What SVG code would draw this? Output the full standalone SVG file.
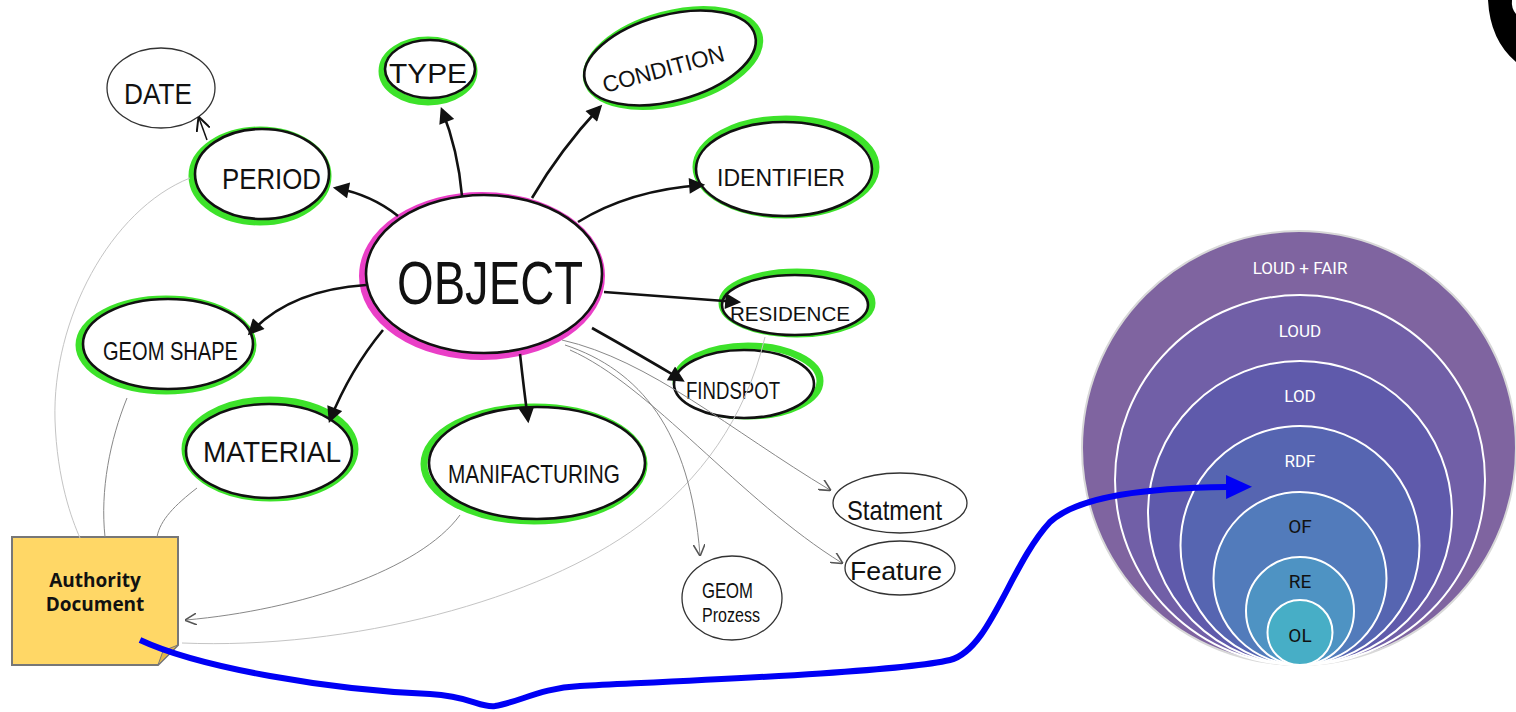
<svg xmlns="http://www.w3.org/2000/svg" width="1516" height="712" viewBox="0 0 1516 712">
<style>
.hand{font-family:"Liberation Sans",Arial,sans-serif;fill:#111;}
.grn{fill:none;stroke:#3de22a;stroke-width:7;}
.pink{fill:none;stroke:#ea3fc7;stroke-width:8;}
.blk{fill:#fff;stroke:#111;stroke-width:2.6;}
.thin{fill:#fff;stroke:#333;stroke-width:1.3;}
.conn{fill:none;stroke:#111;stroke-width:2.6;marker-end:url(#ah);}
.gry{fill:none;stroke:#888;stroke-width:1;}
.gryf{fill:none;stroke:#c4c4c4;stroke-width:1;}
.ring{stroke:#fff;stroke-width:2;}
.wt{font-family:Roboto,"Liberation Sans",sans-serif;font-size:17px;fill:#fff;text-anchor:middle;}
.bt{font-family:Roboto,"Liberation Sans",sans-serif;font-size:19px;fill:#111;text-anchor:middle;}
</style>
<defs>
<marker id="ah" viewBox="0 0 10 10" refX="8" refY="5" markerUnits="userSpaceOnUse" markerWidth="18" markerHeight="16" orient="auto"><path d="M0,0 L10,5 L0,10 Z" fill="#111"/></marker>
<marker id="oa" viewBox="0 0 10 10" refX="9" refY="5" markerUnits="userSpaceOnUse" markerWidth="12" markerHeight="12" orient="auto"><path d="M0,0 L10,5 L0,10" fill="none" stroke="#555" stroke-width="1.3"/></marker>
<marker id="oab" viewBox="0 0 10 10" refX="9" refY="5" markerUnits="userSpaceOnUse" markerWidth="14" markerHeight="14" orient="auto"><path d="M0,0 L10,5 L0,10" fill="none" stroke="#111" stroke-width="1.4"/></marker>
<marker id="ba" viewBox="0 0 26 24" refX="1" refY="12" markerUnits="userSpaceOnUse" markerWidth="26" markerHeight="24" orient="auto"><path d="M0,0 L26,12 L0,24 Z" fill="#0000f5"/></marker>
</defs>
<rect width="1516" height="712" fill="#fff"/>

<g id="date"><ellipse class="thin" cx="161" cy="88" rx="54" ry="40"/><text class="hand" x="124" y="104" font-size="30" textLength="68" lengthAdjust="spacingAndGlyphs">DATE</text></g>

<g id="period"><ellipse class="grn" cx="260" cy="176" rx="68" ry="46"/><ellipse class="blk" cx="262" cy="174" rx="67" ry="45"/><text class="hand" x="222" y="189" font-size="30" textLength="99" lengthAdjust="spacingAndGlyphs">PERIOD</text></g>

<g id="type"><ellipse class="grn" cx="428" cy="71" rx="46" ry="31"/><ellipse class="blk" cx="430" cy="69" rx="45" ry="29"/><text class="hand" x="389" y="83" font-size="28" textLength="78" lengthAdjust="spacingAndGlyphs">TYPE</text></g>

<g id="condition"><ellipse class="grn" cx="673" cy="58" rx="89" ry="44" transform="rotate(-15 673 58)"/><ellipse class="blk" cx="670" cy="58" rx="88" ry="43" transform="rotate(-15 670 58)"/><text class="hand" x="605" y="93" font-size="23" textLength="125" lengthAdjust="spacingAndGlyphs" transform="rotate(-15 605 93)">CONDITION</text></g>

<g id="identifier"><ellipse class="grn" cx="786" cy="167" rx="90" ry="48"/><ellipse class="blk" cx="784" cy="169" rx="88" ry="47"/><text class="hand" x="717" y="186" font-size="24" textLength="128" lengthAdjust="spacingAndGlyphs">IDENTIFIER</text></g>

<g id="object"><ellipse class="pink" cx="482" cy="276" rx="119" ry="80"/><ellipse class="blk" cx="484" cy="274" rx="118" ry="79"/><text class="hand" x="397" y="304" font-size="62" textLength="186" lengthAdjust="spacingAndGlyphs">OBJECT</text></g>

<g id="residence"><ellipse class="grn" cx="797" cy="303" rx="75" ry="31"/><ellipse class="blk" cx="795" cy="305" rx="73" ry="30"/><text class="hand" x="730" y="321" font-size="21" textLength="120" lengthAdjust="spacingAndGlyphs">RESIDENCE</text></g>

<g id="findspot"><ellipse class="grn" cx="748" cy="381" rx="72" ry="35"/><ellipse class="blk" cx="744" cy="384" rx="70" ry="34"/><text class="hand" x="686" y="399" font-size="23" textLength="94" lengthAdjust="spacingAndGlyphs">FINDSPOT</text></g>

<g id="geomshape"><ellipse class="grn" cx="166" cy="345" rx="87" ry="46"/><ellipse class="blk" cx="168" cy="344" rx="85" ry="45"/><text class="hand" x="103" y="360" font-size="25" textLength="135" lengthAdjust="spacingAndGlyphs">GEOM SHAPE</text></g>

<g id="material"><ellipse class="grn" cx="270" cy="449" rx="85" ry="49"/><ellipse class="blk" cx="269" cy="451" rx="83" ry="47"/><text class="hand" x="203" y="462" font-size="29" textLength="138" lengthAdjust="spacingAndGlyphs">MATERIAL</text></g>

<g id="manifacturing"><ellipse class="grn" cx="534" cy="464" rx="110" ry="57"/><ellipse class="blk" cx="537" cy="463" rx="108" ry="56"/><text class="hand" x="448" y="483" font-size="25" textLength="172" lengthAdjust="spacingAndGlyphs">MANIFACTURING</text></g>

<g id="statement"><ellipse class="thin" cx="900" cy="503" rx="67" ry="30"/><text class="hand" x="847" y="520" font-size="28" textLength="95" lengthAdjust="spacingAndGlyphs">Statment</text></g>

<g id="feature"><ellipse class="thin" cx="900" cy="568" rx="55" ry="27"/><text class="hand" x="850" y="580" font-size="26" textLength="92" lengthAdjust="spacingAndGlyphs">Feature</text></g>

<g id="geomprozess"><ellipse class="thin" cx="732" cy="598" rx="50" ry="42"/><text class="hand" x="702" y="598" font-size="22" textLength="51" lengthAdjust="spacingAndGlyphs">GEOM</text><text class="hand" x="702" y="622" font-size="20" textLength="58" lengthAdjust="spacingAndGlyphs">Prozess</text></g>

<g id="authority">
<path d="M12,537 H178 V645 L158,665 H12 Z" fill="#ffd766" stroke="#777" stroke-width="2"/>
<path d="M178,645 L163,651 L158,665 Z" fill="#e2b54a" stroke="#777" stroke-width="1"/>
<text x="95" y="587" font-family="'Open Sans','Liberation Sans',sans-serif" font-weight="bold" font-size="19" fill="#111" text-anchor="middle">Authority</text>
<text x="95" y="611" font-family="'Open Sans','Liberation Sans',sans-serif" font-weight="bold" font-size="19" fill="#111" text-anchor="middle">Document</text>
</g>

<g id="layers">
<circle cx="1299" cy="448" r="217" fill="#7f64a0" stroke="#d8d8d8" stroke-width="2"/>
<circle class="ring" cx="1300" cy="480" r="185" fill="#715fa7"/>
<circle class="ring" cx="1300" cy="513" r="152" fill="#5f5aab"/>
<circle class="ring" cx="1300" cy="545.5" r="119.5" fill="#5665b1"/>
<circle class="ring" cx="1300" cy="578.5" r="86.5" fill="#527bbb"/>
<circle class="ring" cx="1300" cy="611" r="54" fill="#4e93c3"/>
<circle class="ring" cx="1300" cy="632.5" r="32.5" fill="#47aec6"/>
<text class="wt" x="1300" y="274">LOUD + FAIR</text>
<text class="wt" x="1300" y="337">LOUD</text>
<text class="wt" x="1300" y="402">LOD</text>
<text class="wt" x="1300" y="467">RDF</text>
<text class="bt" x="1300" y="533">OF</text>
<text class="bt" x="1300" y="588">RE</text>
<text class="bt" x="1300" y="642">OL</text>
</g>

<path d="M1488,0 Q1490,40 1516,62 L1516,14 Q1511,8 1512,0 Z" fill="#000"/>

<g id="connectors">
<path class="gryf" d="M190,178 C110,210 52,320 55,420 C57,480 72,520 80,538"/>
<path class="gry" d="M127,398 C110,440 100,490 105,537"/>
<path class="gry" d="M197,488 C175,505 160,520 157,537"/>
<path class="gry" d="M460,515 C420,570 300,610 186,620" marker-end="url(#oa)"/>
<path class="gryf" d="M765,337 C745,420 700,480 640,525 C540,600 350,650 182,643"/>
<path class="gry" d="M565,345 C640,370 690,430 700,555" marker-end="url(#oa)"/>
<path class="gry" d="M562,340 C650,360 730,430 830,490" marker-end="url(#oa)"/>
<path class="gry" d="M570,350 C650,385 740,500 842,563" marker-end="url(#oa)"/>
<path class="conn" d="M398,216 Q372,195 336,188"/>
<path class="conn" d="M462,196 Q458,150 442,110"/>
<path class="conn" d="M532,198 Q560,150 600,107"/>
<path class="conn" d="M578,222 Q630,190 702,185"/>
<path class="conn" d="M604,292 L738,302"/>
<path class="conn" d="M592,328 Q640,355 682,380"/>
<path class="conn" d="M520,354 Q524,390 528,420"/>
<path class="conn" d="M383,330 Q350,370 330,420"/>
<path class="conn" d="M366,285 Q290,290 250,333"/>
<path d="M207,140 L199,118" fill="none" stroke="#111" stroke-width="1.5" marker-end="url(#oab)"/>
<path d="M140,640 C200,668 330,690 430,694 C470,696 480,708 495,706 C520,702 540,688 580,686 C700,680 900,672 950,660 C990,650 1010,565 1050,522 C1080,495 1150,488 1227,487" fill="none" stroke="#0000f5" stroke-width="6" marker-end="url(#ba)"/>
</g>
</svg>
